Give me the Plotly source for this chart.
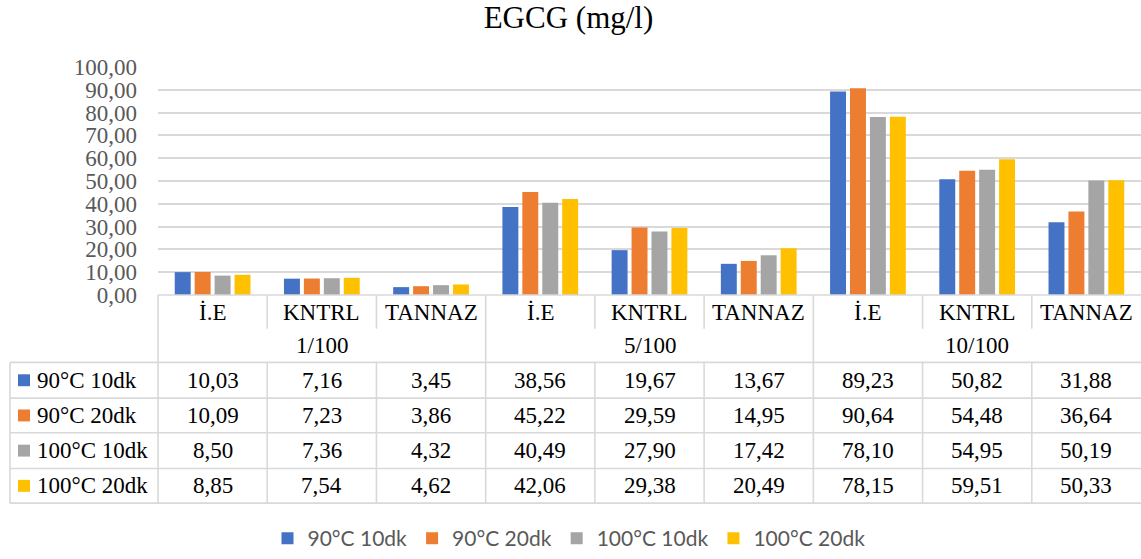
import plotly.graph_objects as go

# ---------------- data ----------------
groups = ["1/100", "5/100", "10/100"]
extracts = ["İ.E", "KNTRL", "TANNAZ"]
series_names = ["90°C 10dk", "90°C 20dk", "100°C 10dk", "100°C 20dk"]
s_90_10 = [10.03, 7.16, 3.45, 38.56, 19.67, 13.67, 89.23, 50.82, 31.88]
s_90_20 = [10.09, 7.23, 3.86, 45.22, 29.59, 14.95, 90.64, 54.48, 36.64]
s_100_10 = [8.50, 7.36, 4.32, 40.49, 27.90, 17.42, 78.10, 54.95, 50.19]
s_100_20 = [8.85, 7.54, 4.62, 42.06, 29.38, 20.49, 78.15, 59.51, 50.33]
y_ticks = [0, 10, 20, 30, 40, 50, 60, 70, 80, 90, 100]
title_text = "EGCG (mg/l)"

series_values = [s_90_10, s_90_20, s_100_10, s_100_20]
colors = ["#4472C4", "#ED7D31", "#A5A5A5", "#FFC000"]

# ---------------- layout geometry (pixels) ----------------
W, H = 1141, 559
L, R, T, B = 158, 1141, 67, 297
GRID = "#D9D9D9"
SERIF = "Liberation Serif, Times New Roman, serif"


def px(xp):
    return (xp - L) / (R - L)


def py(yp):
    return (B - yp) / (B - T)


def tfont():
    return go.layout.annotation.Font(family=SERIF, size=23, color="#000000")


n_cat = len(groups) * len(extracts)
xpos = list(range(n_cat))

fig = go.Figure()
for name, vals, col in zip(series_names, series_values, colors):
    fig.add_trace(go.Bar(x=xpos, y=vals, name=name, marker=dict(color=col, line=dict(width=0))))

line = dict(color=GRID, width=1.6)
# horizontal table lines
fig.add_shape(type="line", xref="paper", yref="paper", x0=px(L), x1=px(R), y0=py(297), y1=py(297), line=line)
for yy in [365, 401, 436, 472, 507]:
    fig.add_shape(type="line", xref="paper", yref="paper", x0=px(10), x1=px(R), y0=py(yy), y1=py(yy), line=line)
# vertical table lines
fig.add_shape(type="line", xref="paper", yref="paper", x0=px(10), x1=px(10), y0=py(365), y1=py(507), line=line)
fig.add_shape(type="line", xref="paper", yref="paper", x0=px(L), x1=px(L), y0=py(297), y1=py(507), line=line)
for i in range(1, n_cat):
    xb = i - 0.5
    if i % 3 == 0:
        fig.add_shape(type="line", xref="x", yref="paper", x0=xb, x1=xb, y0=py(297), y1=py(507), line=line)
    else:
        fig.add_shape(type="line", xref="x", yref="paper", x0=xb, x1=xb, y0=py(297), y1=py(331), line=line)
        fig.add_shape(type="line", xref="x", yref="paper", x0=xb, x1=xb, y0=py(365), y1=py(507), line=line)

row_centers = [383, 418.5, 454, 489.5]
# legend keys in table
for yc, col in zip(row_centers, colors):
    fig.add_shape(type="rect", xref="paper", yref="paper", x0=px(18), x1=px(30),
                  y0=py(yc + 6), y1=py(yc - 6), fillcolor=col, line=dict(width=0))

for i in range(n_cat):
    fig.add_annotation(x=i, y=py(315), xref="x", yref="paper", text=extracts[i % 3], showarrow=False,
                       font=tfont(), xanchor="center", yanchor="middle")
for g, gname in enumerate(groups):
    fig.add_annotation(x=g * 3 + 1, y=py(348), xref="x", yref="paper", text=gname, showarrow=False,
                       font=tfont(), xanchor="center", yanchor="middle")
for yc, name, vals in zip(row_centers, series_names, series_values):
    fig.add_annotation(x=px(35), y=py(yc), xref="paper", yref="paper", text=name, showarrow=False,
                       font=tfont(), xanchor="left", yanchor="middle")
    for i, v in enumerate(vals):
        fig.add_annotation(x=i, y=py(yc), xref="x", yref="paper", text=f"{v:.2f}".replace(".", ","),
                           showarrow=False, font=tfont(), xanchor="center", yanchor="middle")

fig.update_layout(
    width=W, height=H,
    margin=dict(l=L, r=W - R, t=T, b=H - B, pad=0),
    paper_bgcolor="white", plot_bgcolor="white",
    separators=",.",
    font=dict(family=SERIF, color="#000000"),
    title=dict(text=title_text, x=568.5 / W, xanchor="center", xref="container",
               y=1 - 17 / H, yanchor="middle", font=dict(family=SERIF, size=31, color="#000000")),
    barmode="group", bargap=0.27, bargroupgap=0.2,
    showlegend=True,
    legend=dict(orientation="h", x=px(569), xanchor="center", y=py(543), yanchor="middle",
                font=dict(family="Lato", size=21, color="#595959"), traceorder="normal",
                bgcolor="rgba(0,0,0,0)"),
    xaxis=dict(range=[-0.5, n_cat - 0.5], showticklabels=False, showgrid=False, zeroline=False,
               showline=False, ticks="", fixedrange=True),
    yaxis=dict(range=[0, 100], tickvals=y_ticks, tickformat=".2f", showgrid=True, gridcolor=GRID,
               gridwidth=1.6, zeroline=False, showline=False, ticks="", ticklabelstandoff=20,
               tickfont=dict(family=SERIF, size=23, color="#595959"), fixedrange=True),
)

fig.write_html("out.html", config={"displayModeBar": False},
               post_script="document.body.style.margin='0';document.body.style.overflow='hidden';")
